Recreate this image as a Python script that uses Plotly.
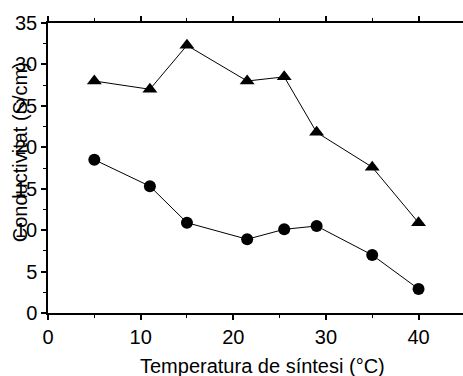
import plotly.graph_objects as go

# Synthesis temperature (°C) and conductivity (S/cm) for the two series
temp = [5, 11, 15, 21.5, 25.5, 29, 35, 40]
cond_triangle = [28.0, 27.0, 32.3, 28.0, 28.5, 21.8, 17.6, 10.9]
cond_circle = [18.5, 15.3, 10.9, 8.9, 10.1, 10.5, 7.0, 2.9]

x_ticks = [0, 10, 20, 30, 40]
y_ticks = [0, 5, 10, 15, 20, 25, 30, 35]

FONT = "Liberation Sans, Arial, sans-serif"

fig = go.Figure()
fig.add_trace(go.Scatter(
    x=temp, y=cond_triangle, mode="lines+markers",
    line=dict(color="black", width=1),
    marker=dict(symbol="triangle-up", size=13, color="black"),
    showlegend=False, cliponaxis=False,
))
fig.add_trace(go.Scatter(
    x=temp, y=cond_circle, mode="lines+markers",
    line=dict(color="black", width=1),
    marker=dict(symbol="circle", size=12, color="black"),
    showlegend=False, cliponaxis=False,
))

fig.update_layout(
    width=463, height=376,
    margin=dict(l=48, r=0, t=23, b=63),
    paper_bgcolor="white", plot_bgcolor="white",
    font=dict(family=FONT, color="black"),
    xaxis=dict(
        range=[0, 44.8], tickvals=x_ticks, ticks="outside", ticklen=5,
        tickwidth=1.5, tickcolor="black",
        showline=True, linecolor="black", linewidth=1.5, mirror="ticks",
        showgrid=False, zeroline=False,
        tickfont=dict(size=20, family=FONT),
        minor=dict(dtick=5, ticks="outside", ticklen=3, tickcolor="black", tickwidth=1),
    ),
    yaxis=dict(
        range=[0, 35], tickvals=y_ticks, ticks="outside", ticklen=5,
        tickwidth=1.5, tickcolor="black",
        showline=True, linecolor="black", linewidth=1.5, mirror=False,
        showgrid=False, zeroline=False,
        tickfont=dict(size=20, family=FONT),
        minor=dict(dtick=2.5, ticks="outside", ticklen=3, tickcolor="black", tickwidth=1),
    ),
    annotations=[
        dict(text="Temperatura de síntesi (°C)", xref="paper", yref="paper",
             x=0.516, y=-0.183, xanchor="center", yanchor="middle",
             showarrow=False, font=dict(size=20, family=FONT)),
        dict(text="Conductivitat (S/cm)", xref="paper", yref="paper",
             x=-0.067, y=0.555, xanchor="center", yanchor="middle", textangle=-90,
             showarrow=False, font=dict(size=20, family=FONT)),
    ],
)

fig.write_html("out.html")
